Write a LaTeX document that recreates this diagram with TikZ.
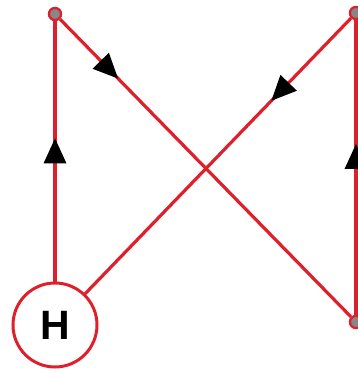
\documentclass[tikz,border=0pt]{standalone}
\usepackage{fontspec}
\setmainfont{Liberation Sans}
\usetikzlibrary{arrows.meta,decorations.markings}
\definecolor{lred}{RGB}{222,32,44}
\definecolor{dotgray}{RGB}{135,135,135}
\tikzset{
  edge/.style={draw=lred,line width=3.2pt},
  arrowat/.style={postaction={decorate,decoration={markings,
     mark=at position #1 with {\arrow[black]{Triangle[length=25pt,width=22pt]}}}}},
  dot/.style={circle,draw=lred,fill=dotgray,line width=2.2pt,minimum size=12pt,inner sep=0pt},
  hnode/.style={circle,draw=lred,line width=3pt,minimum size=84pt,inner sep=0pt,font=\fontsize{41}{43}\selectfont\bfseries}
}
\begin{document}
\begin{tikzpicture}[x=1pt,y=-1pt]
\useasboundingbox (0,0) rectangle (357,373);
\node[hnode] (H) at (55,325) {H};
\node[dot] (tl) at (55,14) {};
\node[dot] (tr) at (356,13) {};
\node[dot] (br) at (356,322) {};
\draw[edge,arrowat=0.55] (H) -- (tl);
\draw[edge,arrowat=0.2] (tl) -- (br);
\draw[edge,arrowat=0.3] (tr) -- (H);
\draw[edge,arrowat=0.58] (br) -- (tr);
\node[dot] at (tl) {};
\node[dot] at (tr) {};
\node[dot] at (br) {};
\end{tikzpicture}
\end{document}
